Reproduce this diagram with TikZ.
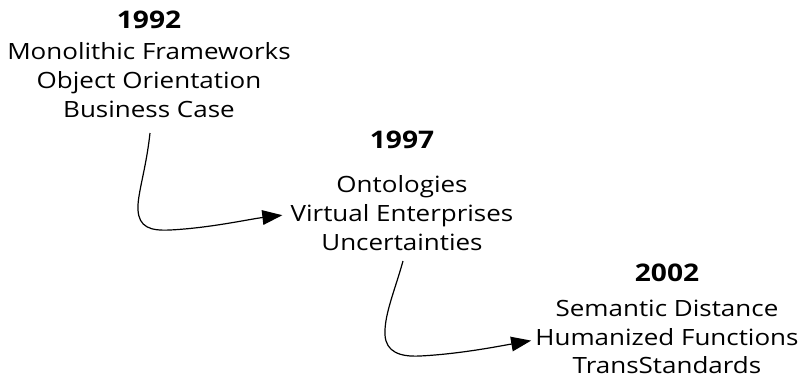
\documentclass[tikz,border=0pt]{standalone}
\usepackage{fontspec}
\setmainfont{Open Sans}[FakeStretch=1.16]
\usetikzlibrary{arrows.meta,calc}
\begin{document}
\begin{tikzpicture}[x=0.75pt,y=-0.75pt,
  yearlbl/.style={inner sep=0pt,anchor=base,font=\fontsize{18.2}{20}\selectfont\bfseries},
  itemlbl/.style={inner sep=0pt,anchor=base,font=\fontsize{16.8}{20}\selectfont},
  arr/.style={line width=0.9pt,-{Triangle[length=15pt,width=11pt]}}]
\useasboundingbox (0,0) rectangle (804,383);
% block 1
\node[yearlbl] (y1) at (149,28) {1992};
\node[itemlbl] (a1) at (149,59) {Monolithic Frameworks};
\node[itemlbl] (b1) at (149,88) {Object Orientation};
\node[itemlbl] (c1) at (149,117) {Business Case};
% block 2
\node[yearlbl] (y2) at (402,148) {1997};
\node[itemlbl] (a2) at (402,192) {Ontologies};
\node[itemlbl] (b2) at (402,221) {Virtual Enterprises};
\node[itemlbl] (c2) at (402,250) {Uncertainties};
% block 3
\node[yearlbl] (y3) at (667,281) {2002};
\node[itemlbl] (a3) at (667,316) {Semantic Distance};
\node[itemlbl] (b3) at (667,345) {Humanized Functions};
\node[itemlbl] (c3) at (667,373) {TransStandards};
% connectors
\coordinate (s1) at (150,133);
\coordinate (s2) at (403,261);
\draw[arr] (s1) .. controls (146,170) and (137,195) .. (138,210)
  .. controls (139,227) and (150,231) .. (170,230)
  .. controls (210,228) and (250,219) .. ([xshift=-6pt]b2.west);
\draw[arr] (s2) .. controls (395,290) and (384,315) .. (385,335)
  .. controls (386,352) and (400,357) .. (420,356)
  .. controls (460,354) and (500,346) .. ([xshift=-3pt,yshift=-3pt]b3.west);
\end{tikzpicture}
\end{document}
